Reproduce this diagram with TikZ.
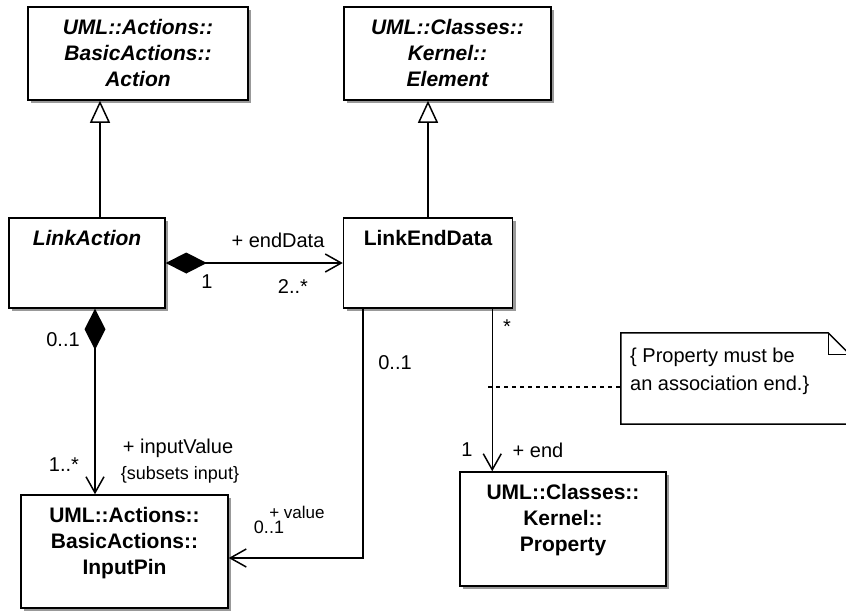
\documentclass[tikz,border=0pt]{standalone}
\usepackage{fontspec}
\setmainfont{Liberation Sans}
\usetikzlibrary{arrows.meta,shadows,calc}
\begin{document}
\begin{tikzpicture}[x=1pt,y=-1pt,
  box/.style={draw, fill=white, line width=1.5pt, inner sep=0pt,
    drop shadow={shadow xshift=3pt, shadow yshift=-3pt, fill=black, opacity=0.4}},
  ctext/.style={anchor=north, inner sep=0pt, align=center, font=\fontsize{21}{26}\selectfont\bfseries},
  itext/.style={anchor=north, inner sep=0pt, align=center, font=\fontsize{21}{26}\selectfont\bfseries\itshape},
  lbl/.style={inner sep=0pt, font=\fontsize{20}{24}\selectfont},
  slbl/.style={inner sep=0pt, font=\fontsize{18}{22}\selectfont},
  conn/.style={line width=1.5pt},
  gen/.style={conn, -{Triangle[open, length=22pt, width=20pt, fill=white]}},
  nav/.style={conn, -{Straight Barb[length=16pt, width=18pt]}},
  comp/.style={conn, {Diamond[length=41pt, width=21pt]}-{Straight Barb[length=16pt, width=18pt]}}
]
\useasboundingbox (0,0) rectangle (846,611);
\clip (0,0) rectangle (846,611);

% boxes
\node[box, minimum width=220pt, minimum height=93pt] (act) at (138,53.5) {};
\node[box, minimum width=207pt, minimum height=93pt] (elem) at (447.5,53.5) {};
\node[box, minimum width=156pt, minimum height=90pt] (la) at (87,263) {};
\node[box, minimum width=169pt, minimum height=90pt] (led) at (428,263) {};
\node[box, minimum width=207pt, minimum height=113pt] (pin) at (124.5,551.5) {};
\node[box, minimum width=206pt, minimum height=114pt] (prop) at (563,529) {};

% box texts
\node[itext] (actt) at ([yshift=-13pt]act.north) {UML::Actions::\\BasicActions::\\Action};
\node[itext] (elemt) at ([yshift=-13pt]elem.north) {UML::Classes::\\Kernel::\\Element};
\node[itext] (lat) at ([yshift=-13pt]la.north) {LinkAction};
\node[ctext] (ledt) at ([yshift=-13pt]led.north) {LinkEndData};
\node[ctext] (pint) at ([yshift=-13pt]pin.north) {UML::Actions::\\BasicActions::\\InputPin};
\node[ctext] (propt) at ([yshift=-13pt]prop.north) {UML::Classes::\\Kernel::\\Property};

% note
\node[minimum width=229pt, minimum height=91pt, inner sep=0pt] (note) at (735.5,378.5) {};
\draw[line width=1.5pt] (note.north west) -- ($(note.north east)+(-22,0)$) -- ($(note.north east)+(0,22)$)
  -- (note.south east) -- (note.south west) -- cycle;
\draw[line width=1.2pt] ($(note.north east)+(-22,0)$) -- ($(note.north east)+(-22,22)$) -- ($(note.north east)+(0,22)$);
\node[anchor=west, inner sep=0pt, align=left, font=\fontsize{20}{28}\selectfont] (notet) at (630,371)
  {\{ Property must be\\an association end.\}};

% generalizations
\draw[gen] ([xshift=13pt]la.north) -- ([xshift=13pt]la.north |- act.south);
\draw[gen] (led.north) -- (led.north |- elem.south);

% associations
\draw[comp] (la.east) -- (led.west);
\draw[comp] ([xshift=8pt]la.south) -- ([xshift=8pt]la.south |- pin.north);
\draw[nav] ([xshift=20pt]led.south west) |- ([yshift=-6.5pt]pin.east);
\draw[nav] ([xshift=-21pt]led.south east) -- ([xshift=-21pt]led.south east |- prop.north);

% dashed note link
\coordinate (np) at (488,387);
\draw[line width=1.2pt, dash pattern=on 4pt off 4pt] (np) -- (np -| note.west);

% labels
\node[lbl] (l1) at (278,240) {+ endData};
\node[lbl] (l2) at (207,282) {1};
\node[lbl] (l3) at (293,287) {2..*};
\node[lbl] (l4) at (63,340) {0..1};
\node[lbl] (l5) at (64,465) {1..*};
\node[lbl] (l6) at (178,448) {+ inputValue};
\node[slbl] (l7) at (180,475) {\{subsets input\}};
\node[lbl] (l8) at (395,363) {0..1};
\node[inner sep=0pt, font=\fontsize{17}{20}\selectfont] (l9) at (297,512) {+ value};
\node[slbl] (l10) at (269,527) {0..1};
\node[lbl] (l11) at (507,327) {*};
\node[lbl] (l12) at (467,450) {1};
\node[lbl] (l13) at (538,450) {+ end};
\end{tikzpicture}
\end{document}
